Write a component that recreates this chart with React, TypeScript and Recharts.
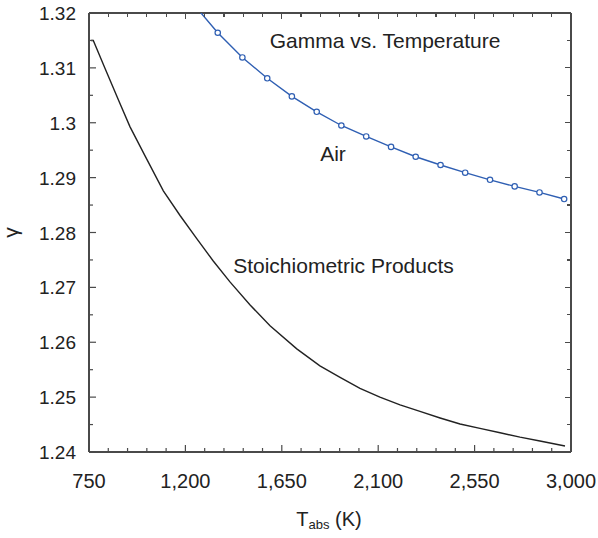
import { LineChart, Line, XAxis, YAxis, ReferenceDot, ReferenceLine } from "recharts";

const FONT = "'Liberation Sans', Arial, Helvetica, sans-serif";
const AXIS = "#4a4a4a";
const INK = "#222";
const BLUE = "#2f5fb3";

const W = 598;
const H = 538;
const M = { top: 13, right: 27, left: 0, bottom: 0 };
const Y_AXIS_W = 89;
const X_AXIS_H = 86;
const PLOT_L = M.left + Y_AXIS_W;
const PLOT_W = W - M.right - PLOT_L;
const PLOT_H = H - M.top - M.bottom - X_AXIS_H;

// tick positions (major ticks get labels)
const xMajor = [750, 1200, 1650, 2100, 2550, 3000];
const xMinor = [840, 930, 1020, 1110, 1290, 1380, 1470, 1560, 1740, 1830, 1920, 2010, 2190, 2280, 2370, 2460, 2640, 2730, 2820, 2910];
const yMajor = [1.24, 1.25, 1.26, 1.27, 1.28, 1.29, 1.3, 1.31, 1.32];
const yMinor = [1.245, 1.255, 1.265, 1.275, 1.285, 1.295, 1.305, 1.315];

// air (blue, markers) - first point lies above the plot and is clipped
const airT = [1236, 1351, 1466, 1582, 1697, 1813, 1928, 2044, 2160, 2275, 2391, 2506, 2622, 2737, 2853, 2968];
const airGamma = [1.3217, 1.3164, 1.3119, 1.3081, 1.3048, 1.302, 1.2995, 1.2975, 1.2956, 1.2938, 1.2923, 1.2909, 1.2896, 1.2884, 1.2873, 1.2861];

// stoichiometric products (black)
const prodT = [760, 770, 825, 887, 941, 1011, 1097, 1175, 1253, 1330, 1408, 1502, 1595, 1720, 1828, 1922, 2015, 2108, 2202, 2295, 2389, 2482, 2575, 2669, 2762, 2855, 2972];
const prodGamma = [1.315, 1.315, 1.3099, 1.3042, 1.2993, 1.294, 1.2876, 1.2831, 1.2789, 1.2748, 1.271, 1.2668, 1.263, 1.2588, 1.2557, 1.2536, 1.2516, 1.25, 1.2486, 1.2474, 1.2462, 1.2451, 1.2443, 1.2435, 1.2427, 1.242, 1.2411];

const airData = airT.map((t, i) => ({ t, g: airGamma[i] }));
const prodData = prodT.map((t, i) => ({ t, g: prodGamma[i] }));

const xTicks = [...xMajor, ...xMinor].sort((a, b) => a - b);
const yTicks = [...yMajor, ...yMinor].sort((a, b) => a - b);

const textStyle = { fontFamily: FONT, fontSize: 19, fill: INK };
const noteStyle = { fontFamily: FONT, fontSize: 21, fill: INK };

function BottomTick({ x, y, payload }: any) {
  const major = xMajor.includes(payload.value);
  return (
    <g>
      <line x1={x} x2={x} y1={y} y2={y - (major ? 7 : 4)} stroke={AXIS} strokeWidth={1.2} />
      {major && (
        <text x={x} y={y + 36} textAnchor="middle" style={{ ...textStyle, fontSize: 20 }}>
          {payload.value.toLocaleString("en-US")}
        </text>
      )}
    </g>
  );
}

function LeftTick({ x, y, payload }: any) {
  const major = yMajor.includes(payload.value);
  return (
    <g>
      <line x1={x} x2={x + (major ? 7 : 4)} y1={y} y2={y} stroke={AXIS} strokeWidth={1.2} />
      {major && (
        <text x={x - 13} y={y + 7} textAnchor="end" style={textStyle}>
          {String(payload.value)}
        </text>
      )}
    </g>
  );
}

function XTitle({ viewBox }: any) {
  const cx = viewBox.x + viewBox.width / 2 - 1;
  return (
    <text x={cx} y={viewBox.y + 74} textAnchor="middle" style={{ ...textStyle, fontSize: 20 }}>
      T<tspan fontSize={13} dy={3}>abs</tspan>
      <tspan dy={-3}> (K)</tspan>
    </text>
  );
}

function YTitle({ viewBox }: any) {
  const cy = viewBox.y + viewBox.height / 2;
  return (
    <text x={18} y={cy} textAnchor="middle" transform={`rotate(-90 18 ${cy})`} style={{ ...textStyle, fontSize: 21 }}>
      γ
    </text>
  );
}

// mirrored inward ticks along the top and right edges
function Frame() {
  const px = (t: number) => PLOT_L + ((t - 750) / 2250) * PLOT_W;
  const py = (v: number) => M.top + ((1.32 - v) / 0.08) * PLOT_H;
  const right = PLOT_L + PLOT_W;
  return (
    <>
      {xTicks.map((t) => (
        <div
          key={`t${t}`}
          style={{
            position: "absolute",
            left: px(t) - 0.6,
            top: M.top,
            width: 1.2,
            height: xMajor.includes(t) ? 6 : 4,
            background: AXIS,
          }}
        />
      ))}
      {yTicks.map((v) => (
        <div
          key={`r${v}`}
          style={{
            position: "absolute",
            left: right - (yMajor.includes(v) ? 6 : 4),
            top: py(v) - 0.6,
            width: yMajor.includes(v) ? 6 : 4,
            height: 1.2,
            background: AXIS,
          }}
        />
      ))}
    </>
  );
}

export default function App() {
  return (
    <div style={{ position: "absolute", left: 0, top: 0, width: W, height: H, background: "#fff" }}>
      <LineChart width={W} height={H} margin={M}>
        <XAxis
          xAxisId="b"
          type="number"
          dataKey="t"
          domain={[750, 3000]}
          allowDataOverflow
          ticks={xTicks}
          interval={0}
          tickSize={0}
          tickMargin={0}
          tickLine={false}
          tick={<BottomTick />}
          height={X_AXIS_H}
          axisLine={{ stroke: AXIS, strokeWidth: 2 }}
          label={{ content: <XTitle /> }}
        />
        <YAxis
          yAxisId="l"
          type="number"
          domain={[1.24, 1.32]}
          allowDataOverflow
          ticks={yTicks}
          interval={0}
          tickSize={0}
          tickMargin={0}
          tickLine={false}
          tick={<LeftTick />}
          width={Y_AXIS_W}
          axisLine={{ stroke: AXIS, strokeWidth: 2 }}
          label={{ content: <YTitle /> }}
        />
        {/* top and right edges of the box */}
        <ReferenceLine xAxisId="b" yAxisId="l" y={1.32} stroke={AXIS} strokeWidth={2} ifOverflow="visible" />
        <ReferenceLine xAxisId="b" yAxisId="l" x={3000} stroke={AXIS} strokeWidth={2} ifOverflow="visible" />
        <Line
          xAxisId="b"
          yAxisId="l"
          data={prodData}
          dataKey="g"
          type="linear"
          stroke={INK}
          strokeWidth={1.4}
          dot={false}
          isAnimationActive={false}
        />
        <Line
          xAxisId="b"
          yAxisId="l"
          data={airData}
          dataKey="g"
          type="linear"
          stroke={BLUE}
          strokeWidth={1.4}
          dot={{ r: 2.7, fill: "#fff", stroke: BLUE, strokeWidth: 1.2 }}
          isAnimationActive={false}
        />
        <ReferenceDot xAxisId="b" yAxisId="l" x={2132} y={1.315} r={0} ifOverflow="visible"
          label={{ value: "Gamma vs. Temperature", position: "center", ...noteStyle }} />
        <ReferenceDot xAxisId="b" yAxisId="l" x={1889} y={1.2944} r={0} ifOverflow="visible"
          label={{ value: "Air", position: "center", ...noteStyle }} />
        <ReferenceDot xAxisId="b" yAxisId="l" x={1938} y={1.2739} r={0} ifOverflow="visible"
          label={{ value: "Stoichiometric Products", position: "center", ...noteStyle }} />
      </LineChart>
      <Frame />
    </div>
  );
}
